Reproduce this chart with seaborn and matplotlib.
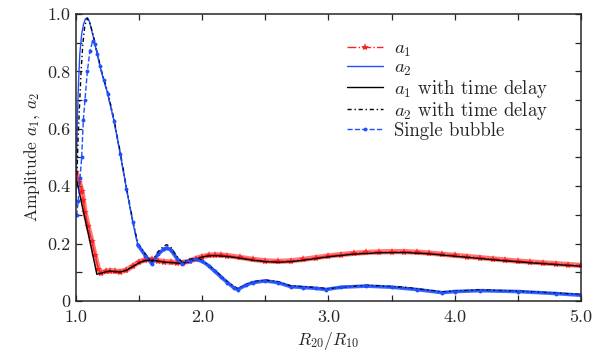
import numpy as np
import matplotlib
matplotlib.use('Agg')
import matplotlib.pyplot as plt
import seaborn as sns
from matplotlib.ticker import MultipleLocator, FuncFormatter

# ---------- dados ----------
# a1 (bolha 1)
x_a1 = [1.00, 1.026, 1.045, 1.058, 1.071, 1.097, 1.124, 1.15, 1.177, 1.20, 1.24, 1.27,
        1.31, 1.35, 1.40, 1.45, 1.50, 1.55, 1.60, 1.65, 1.70, 1.75, 1.80, 1.85, 1.90,
        1.95, 2.00, 2.05, 2.10, 2.15, 2.20, 2.30, 2.40, 2.50, 2.60, 2.70, 2.80, 2.90,
        3.00, 3.10, 3.20, 3.30, 3.40, 3.50, 3.60, 3.70, 3.80, 3.90, 4.00, 4.10, 4.20,
        4.30, 4.40, 4.50, 4.60, 4.70, 4.80, 4.90, 5.00]
y_a1 = [0.45, 0.415, 0.385, 0.352, 0.31, 0.26, 0.21, 0.16, 0.112, 0.098, 0.104, 0.106,
        0.104, 0.102, 0.108, 0.122, 0.136, 0.144, 0.145, 0.141, 0.137, 0.136, 0.134, 0.134, 0.139,
        0.148, 0.155, 0.159, 0.161, 0.160, 0.158, 0.152, 0.145, 0.140, 0.138, 0.140, 0.145, 0.151,
        0.157, 0.162, 0.166, 0.169, 0.171, 0.172, 0.172, 0.170, 0.167, 0.163, 0.159, 0.155, 0.151,
        0.147, 0.143, 0.139, 0.136, 0.133, 0.130, 0.127, 0.124]

# a1 com atraso temporal
x_a1d = [1.00, 1.05, 1.10, 1.165, 1.20, 1.24, 1.27, 1.31, 1.35, 1.40, 1.45, 1.50, 1.55,
         1.60, 1.65, 1.70, 1.75, 1.80, 1.85, 1.90, 1.95, 2.00, 2.05, 2.10, 2.20, 2.30,
         2.40, 2.50, 2.60, 2.70, 2.80, 2.90, 3.00, 3.20, 3.40, 3.60, 3.80, 4.00, 4.20,
         4.40, 4.60, 4.80, 5.00]
y_a1d = [0.43, 0.33, 0.23, 0.093, 0.097, 0.102, 0.104, 0.102, 0.101, 0.107, 0.120, 0.133, 0.141,
         0.142, 0.139, 0.135, 0.134, 0.132, 0.132, 0.137, 0.146, 0.153, 0.157, 0.158, 0.155, 0.149,
         0.142, 0.137, 0.135, 0.137, 0.142, 0.148, 0.154, 0.163, 0.168, 0.169, 0.164, 0.156, 0.148,
         0.140, 0.133, 0.127, 0.121]

# a2 (bolha 2)
x_a2 = [1.00, 1.005, 1.01, 1.02, 1.03, 1.045, 1.06, 1.075, 1.09, 1.105, 1.12, 1.14, 1.16,
        1.20, 1.25, 1.30, 1.35, 1.40, 1.45, 1.49, 1.55, 1.60, 1.65, 1.70, 1.72, 1.75,
        1.80, 1.84, 1.90, 1.95, 2.00, 2.05, 2.10, 2.15, 2.20, 2.25, 2.28, 2.35, 2.40,
        2.50, 2.60, 2.70, 2.80, 2.90, 2.98, 3.10, 3.30, 3.50, 3.70, 3.90, 4.00, 4.20,
        4.50, 4.80, 5.00]
y_a2 = [0.33, 0.50, 0.62, 0.76, 0.86, 0.93, 0.965, 0.983, 0.987, 0.975, 0.95, 0.915, 0.875,
        0.80, 0.725, 0.63, 0.515, 0.39, 0.275, 0.195, 0.16, 0.132, 0.165, 0.184, 0.187, 0.180,
        0.150, 0.132, 0.143, 0.147, 0.140, 0.125, 0.105, 0.085, 0.066, 0.048, 0.042, 0.058, 0.066,
        0.072, 0.066, 0.052, 0.049, 0.046, 0.042, 0.050, 0.054, 0.050, 0.042, 0.031, 0.035, 0.038,
        0.035, 0.028, 0.022]

# a2 com atraso temporal
x_a2d = [1.00, 1.01, 1.018, 1.026, 1.04, 1.055, 1.07, 1.09, 1.11, 1.14, 1.16, 1.20, 1.25,
         1.30, 1.35, 1.40, 1.45, 1.49, 1.55, 1.60, 1.65, 1.70, 1.72, 1.75, 1.80, 1.84,
         1.90, 1.95, 2.00, 2.10, 2.20, 2.28, 2.40, 2.50, 2.60, 2.70, 2.90, 3.00, 3.30,
         3.60, 3.90, 4.20, 4.60, 5.00]
y_a2d = [0.40, 0.47, 0.585, 0.66, 0.80, 0.90, 0.96, 0.985, 0.97, 0.92, 0.88, 0.805, 0.73,
         0.635, 0.52, 0.395, 0.28, 0.20, 0.163, 0.135, 0.172, 0.193, 0.196, 0.188, 0.155, 0.135,
         0.145, 0.149, 0.142, 0.107, 0.067, 0.043, 0.067, 0.073, 0.067, 0.053, 0.047, 0.043, 0.055,
         0.048, 0.032, 0.039, 0.032, 0.023]

# bolha isolada
x_sb = [1.00, 1.005, 1.018, 1.032, 1.045, 1.058, 1.071, 1.09, 1.11, 1.132, 1.15, 1.17, 1.19,
        1.22, 1.25, 1.30, 1.35, 1.40, 1.45, 1.49, 1.55, 1.60, 1.65, 1.70, 1.72, 1.75,
        1.80, 1.84, 1.90, 1.95, 2.00, 2.05, 2.10, 2.15, 2.20, 2.25, 2.28, 2.35, 2.40,
        2.50, 2.60, 2.70, 2.80, 2.90, 2.98, 3.10, 3.30, 3.50, 3.70, 3.90, 4.00, 4.20,
        4.50, 4.80, 5.00]
y_sb = [0.30, 0.30, 0.35, 0.43, 0.50, 0.63, 0.70, 0.80, 0.87, 0.906, 0.895, 0.86, 0.82,
        0.77, 0.722, 0.628, 0.513, 0.39, 0.275, 0.195, 0.158, 0.130, 0.163, 0.182, 0.185, 0.178,
        0.148, 0.130, 0.141, 0.145, 0.138, 0.123, 0.103, 0.083, 0.064, 0.046, 0.040, 0.056, 0.064,
        0.070, 0.064, 0.050, 0.047, 0.044, 0.040, 0.048, 0.052, 0.048, 0.040, 0.029, 0.033, 0.036,
        0.033, 0.026, 0.020]

RED = '#ff1f1f'
BLUE = '#1f4fff'

sns.set_style('ticks')
plt.rcParams['font.family'] = ['cmr10', 'DejaVu Serif']
plt.rcParams['mathtext.fontset'] = 'cm'
plt.rcParams['axes.formatter.use_mathtext'] = True
plt.rcParams['font.size'] = 12

fig = plt.figure(figsize=(6.06, 3.56), dpi=100)
ax = fig.add_axes([0.1254, 0.1545, 0.8333, 0.8062])

# faixas grossas (efeito dos marcadores densos)
ax.plot(x_a1, y_a1, color=RED, lw=3.8, alpha=0.6, solid_capstyle='round')
i_sb = x_sb.index(1.49)
ax.plot(x_sb[i_sb:], y_sb[i_sb:], color=BLUE, lw=2.6, alpha=0.85)

sns.lineplot(x=x_a1, y=y_a1, ax=ax, color=RED, linestyle='-.', lw=1.0, marker='*',
             markersize=6, markeredgewidth=0, estimator=None, sort=False, label='$a_1$')
sns.lineplot(x=x_a2, y=y_a2, ax=ax, color=BLUE, linestyle='-', lw=1.0,
             estimator=None, sort=False, label='$a_2$')
sns.lineplot(x=x_a1d, y=y_a1d, ax=ax, color='black', linestyle='-', lw=1.0,
             estimator=None, sort=False, label='$a_1$ with time delay')
sns.lineplot(x=x_a2d, y=y_a2d, ax=ax, color='black', linestyle=(0, (3, 2, 1, 2)), lw=1.0,
             estimator=None, sort=False, label='$a_2$ with time delay')
sns.lineplot(x=x_sb, y=y_sb, ax=ax, color=BLUE, linestyle='--', lw=1.0, marker='o',
             markersize=2.8, markeredgewidth=0, estimator=None, sort=False,
             label='Single bubble')

ax.set_xlim(1.0, 5.0)
ax.set_ylim(0, 1.0)
ax.xaxis.set_major_locator(MultipleLocator(1.0))
ax.xaxis.set_minor_locator(MultipleLocator(0.5))
ax.yaxis.set_major_locator(MultipleLocator(0.2))
ax.yaxis.set_minor_locator(MultipleLocator(0.1))
ax.xaxis.set_major_formatter(FuncFormatter(lambda v, p: f'{v:.1f}'))
ax.yaxis.set_major_formatter(FuncFormatter(lambda v, p: '0' if abs(v) < 1e-9 else f'{v:.1f}'))
ax.tick_params(which='both', direction='in', top=True, right=True, length=4, width=0.9,
               labelsize=13)
ax.tick_params(axis='x', pad=6)
ax.tick_params(axis='y', pad=4)
for s in ax.spines.values():
    s.set_linewidth(1.1)

ax.set_xlabel('$R_{20}/R_{10}$', fontsize=12.5)
ax.set_ylabel('Amplitude $a_1$, $a_2$', fontsize=12.5)

ax.legend(loc='upper left', bbox_to_anchor=(0.557, 0.915), bbox_transform=fig.transFigure,
          frameon=False, fontsize=13.5, handlelength=1.95, labelspacing=0.0,
          handletextpad=0.55, borderpad=0)

fig.savefig('out.png', dpi=100)
